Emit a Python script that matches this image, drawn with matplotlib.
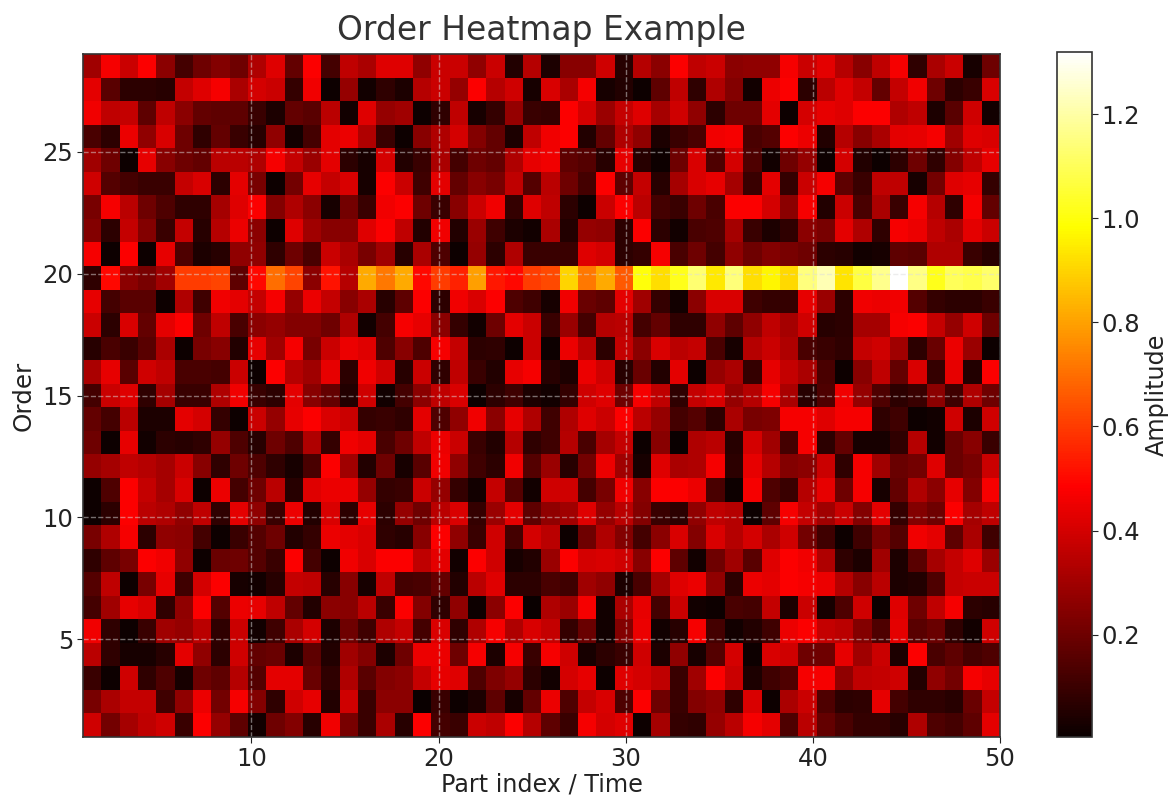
from matplotlib import pyplot as plt
import numpy as np

# amplitude, one list per order, top row first
row_29 = [.3,.47,.38,.48,.26,.12,.2,.24,.2,.33,.42,.18,.48,.12,.36,.32,.42, .42,.27,.38,.38,.27,.38,.05,.34,.04,.25,.25,.39,.06,.34,.26,.48, .36,.38,.26,.27,.27,.47,.38,.43,.34,.25,.36,.47,.08,.32,.38,.03,.2]
row_28 = [.43,.16,.07,.07,.06,.37,.42,.47,.32,.4,.38,.09,.46,.01,.28,.02,.08, .04,.34,.38,.28,.48,.34,.39,.03,.41,.32,.47,.03,.05,.01,.17,.36, .08,.33,.24,.02,.45,.48,.07,.35,.42,.37,.18,.37,.46,.2,.07,.1,.41]
row_27 = [.46,.36,.37,.17,.36,.26,.18,.17,.17,.1,.04,.18,.16,.35,.02,.42,.28, .3,.01,.08,.36,.03,.09,.28,.1,.09,.48,.4,.29,.37,.42,.31,.39, .27,.07,.2,.2,.43,.01,.4,.44,.42,.48,.48,.33,.36,.04,.16,.39,.02]
row_26 = [.13,.07,.45,.27,.41,.2,.08,.18,.1,.06,.27,.02,.12,.43,.45,.33,.1, .01,.25,.33,.4,.24,.18,.04,.36,.46,.48,.05,.18,.33,.27,.04,.1, .13,.46,.47,.13,.15,.48,.45,.05,.34,.25,.32,.43,.44,.47,.3,.42,.41]
row_25 = [.3,.2,.01,.44,.25,.2,.18,.35,.35,.33,.47,.37,.29,.43,.07,.03,.4, .05,.1,.32,.12,.2,.18,.33,.44,.46,.17,.15,.06,.44,.06,.01,.2, .41,.14,.4,.14,.02,.2,.28,.01,.4,.05,.01,.07,.2,.08,.24,.36,.44]
row_24 = [.39,.15,.12,.1,.1,.37,.41,.07,.43,.22,.01,.21,.44,.37,.41,.03,.48, .38,.11,.43,.18,.25,.22,.36,.15,.35,.2,.12,.48,.17,.37,.06,.31, .41,.44,.31,.1,.43,.09,.38,.47,.17,.1,.36,.36,.03,.21,.42,.44,.09]
row_23 = [.22,.47,.35,.2,.14,.08,.08,.31,.42,.48,.24,.33,.26,.03,.21,.1,.46, .48,.2,.1,.25,.38,.46,.09,.42,.36,.07,.01,.38,.48,.35,.12,.1, .2,.13,.48,.48,.4,.26,.47,.05,.38,.13,.32,.1,.47,.34,.08,.47,.18]
row_22 = [.24,.07,.37,.24,.1,.37,.06,.34,.45,.26,.01,.42,.3,.25,.25,.42,.48, .36,.05,.46,.05,.29,.11,.04,.02,.32,.05,.28,.27,.07,.48,.07,.02, .13,.14,.31,.1,.04,.08,.26,.22,.43,.33,.08,.47,.45,.36,.32,.43,.38]
row_21 = [.47,.01,.48,.01,.44,.14,.04,.06,.27,.27,.08,.2,.13,.38,.32,.22,.3, .06,.32,.14,.01,.28,.07,.33,.1,.1,.1,.42,.4,.07,.09,.47,.13, .2,.12,.27,.2,.24,.22,.2,.07,.06,.02,.03,.17,.16,.33,.33,.1,.06]
row_20 = [.08,.5,.26,.22,.3,.6,.6,.62,.17,.5,.7,.62,.26,.52,.34,.82,.72, .82,.5,.6,.55,.8,.53,.5,.6,.63,.9,.72,.82,.66,1.0,.92,1.02, 1.13,.94,1.14,.92,.97,.91,1.15,1.22,.93,1.07,1.17,1.32,1.16,1.02,1.1,1.08,1.12]
row_19 = [.44,.12,.16,.16,.01,.33,.11,.46,.43,.37,.47,.28,.45,.37,.25,.32,.06, .17,.48,.07,.46,.41,.48,.14,.11,.03,.46,.19,.17,.43,.3,.09,.02, .26,.41,.41,.11,.09,.09,.44,.29,.07,.46,.45,.46,.15,.09,.07,.07,.1]
row_18 = [.38,.07,.41,.18,.43,.48,.2,.36,.13,.26,.28,.24,.24,.2,.33,.02,.12, .47,.44,.26,.09,.02,.2,.43,.38,.1,.29,.12,.34,.35,.12,.18,.08, .08,.27,.17,.27,.36,.31,.39,.06,.07,.31,.31,.47,.48,.37,.28,.39,.2]
row_17 = [.06,.13,.1,.16,.32,.01,.22,.25,.05,.44,.3,.47,.22,.38,.45,.42,.14, .25,.14,.47,.37,.07,.08,.01,.38,.01,.45,.35,.07,.37,.26,.41,.35, .37,.13,.03,.34,.38,.33,.13,.1,.08,.37,.39,.3,.07,.19,.45,.29,.01]
row_16 = [.32,.44,.16,.39,.36,.13,.13,.12,.38,.01,.48,.34,.3,.44,.07,.46,.39, .06,.38,.08,.36,.1,.05,.44,.47,.06,.04,.45,.39,.06,.19,.05,.43, .01,.28,.32,.09,.44,.37,.32,.13,.01,.25,.36,.18,.41,.09,.44,.05,.48]
row_15 = [.12,.38,.42,.08,.31,.1,.1,.33,.46,.1,.07,.43,.25,.18,.05,.39,.02, .12,.26,.36,.41,.01,.07,.11,.04,.02,.09,.39,.42,.2,.47,.36,.08, .37,.41,.28,.34,.47,.32,.06,.14,.46,.28,.14,.07,.1,.26,.11,.33,.2]
row_14 = [.18,.12,.35,.04,.04,.43,.4,.09,.01,.38,.28,.44,.48,.41,.38,.09,.1, .08,.43,.14,.27,.46,.26,.44,.33,.11,.33,.42,.38,.48,.35,.28,.12, .15,.07,.32,.22,.23,.47,.47,.42,.47,.47,.08,.11,.01,.02,.39,.04,.39]
row_13 = [.2,.01,.44,.02,.07,.06,.08,.28,.14,.06,.2,.14,.33,.09,.46,.43,.13, .2,.36,.45,.38,.1,.05,.34,.08,.11,.34,.13,.31,.37,.01,.25,.0, .33,.35,.06,.4,.3,.12,.47,.07,.18,.03,.03,.08,.34,.02,.19,.25,.1]
row_12 = [.28,.31,.36,.34,.31,.38,.25,.08,.2,.14,.08,.03,.13,.48,.3,.05,.2, .03,.16,.46,.27,.11,.07,.46,.15,.29,.06,.21,.45,.3,.03,.42,.32, .33,.47,.07,.44,.34,.24,.26,.38,.08,.47,.3,.19,.21,.42,.19,.22,.38]
row_11 = [.01,.14,.48,.37,.31,.41,.01,.45,.12,.2,.35,.06,.42,.45,.45,.28,.09, .1,.38,.28,.09,.02,.37,.15,.02,.39,.39,.12,.22,.46,.25,.48,.48, .45,.13,.01,.47,.14,.1,.34,.44,.2,.47,.03,.18,.33,.26,.44,.24,.47]
row_10 = [.01,.07,.48,.35,.33,.27,.36,.08,.43,.27,.1,.45,.05,.41,.07,.44,.07, .28,.2,.35,.41,.09,.29,.43,.17,.27,.3,.42,.28,.35,.24,.1,.07, .27,.36,.34,.01,.17,.47,.37,.3,.38,.24,.43,.09,.24,.2,.48,.31,.36]
row_09 = [.22,.33,.47,.07,.27,.26,.12,.01,.1,.15,.2,.05,.09,.45,.43,.41,.08, .06,.25,.48,.27,.1,.39,.12,.4,.35,.01,.2,.33,.24,.12,.26,.41, .24,.41,.34,.4,.32,.39,.21,.11,.01,.11,.22,.15,.46,.43,.17,.32,.11]
row_08 = [.08,.17,.22,.48,.46,.27,.01,.19,.2,.15,.1,.48,.12,.01,.46,.41,.48, .48,.36,.43,.02,.48,.39,.03,.05,.29,.48,.4,.41,.39,.25,.48,.17, .02,.2,.3,.16,.42,.48,.46,.33,.08,.04,.3,.04,.16,.31,.37,.42,.29]
row_07 = [.15,.36,.01,.22,.44,.11,.4,.48,.03,.02,.06,.37,.36,.06,.25,.03,.36, .12,.13,.18,.05,.35,.42,.07,.07,.13,.11,.3,.27,.04,.13,.31,.42, .45,.27,.07,.45,.43,.48,.47,.45,.34,.25,.35,.04,.05,.14,.37,.38,.38]
row_06 = [.12,.3,.44,.41,.08,.27,.48,.15,.45,.44,.36,.18,.05,.26,.25,.35,.1, .48,.24,.08,.27,.01,.26,.48,.0,.33,.29,.47,.02,.32,.44,.12,.38, .02,.01,.13,.12,.37,.04,.38,.03,.14,.39,.01,.42,.2,.36,.47,.07,.06]
row_05 = [.46,.08,.01,.1,.3,.28,.35,.08,.38,.02,.11,.32,.4,.04,.2,.11,.33, .37,.12,.41,.08,.33,.47,.33,.41,.37,.09,.19,.02,.24,.45,.02,.06, .47,.12,.02,.05,.11,.45,.48,.37,.35,.24,.14,.43,.16,.19,.08,.02,.39]
row_04 = [.35,.08,.03,.03,.06,.43,.27,.07,.39,.18,.19,.04,.17,.05,.3,.24,.04, .2,.45,.45,.2,.47,.04,.47,.1,.47,.39,.03,.07,.1,.39,.04,.27, .03,.15,.4,.01,.41,.39,.2,.2,.44,.3,.38,.04,.48,.13,.17,.12,.14]
row_03 = [.1,.01,.39,.08,.14,.03,.2,.17,.34,.15,.43,.43,.19,.08,.33,.16,.24, .26,.37,.44,.42,.14,.23,.28,.07,.02,.4,.44,.01,.42,.4,.36,.1, .3,.48,.38,.04,.11,.14,.47,.47,.27,.36,.37,.39,.05,.27,.21,.47,.44]
row_02 = [.22,.32,.37,.37,.11,.27,.45,.21,.47,.24,.08,.39,.44,.05,.39,.1,.26, .26,.0,.1,.01,.04,.17,.03,.18,.45,.14,.37,.41,.14,.48,.2,.1, .24,.27,.08,.41,.01,.32,.38,.14,.07,.08,.44,.12,.08,.08,.06,.19,.37]
row_01 = [.39,.21,.31,.36,.39,.1,.48,.28,.17,.02,.2,.24,.06,.46,.22,.1,.32, .06,.48,.12,.1,.38,.36,.48,.34,.17,.1,.47,.4,.42,.01,.31,.09, .08,.28,.35,.47,.43,.14,.35,.18,.13,.09,.09,.06,.33,.14,.12,.17,.43]

rows = [row_01, row_02, row_03, row_04, row_05, row_06, row_07, row_08, row_09, row_10,
        row_11, row_12, row_13, row_14, row_15, row_16, row_17, row_18, row_19, row_20,
        row_21, row_22, row_23, row_24, row_25, row_26, row_27, row_28, row_29]
amplitude = np.array(rows)

x_ticks = [10, 20, 30, 40, 50]
y_ticks = [5, 10, 15, 20, 25]
cbar_ticks = [0.2, 0.4, 0.6, 0.8, 1.0, 1.2]

W, H = 1169, 796
fig = plt.figure(figsize=(W / 100, H / 100), dpi=100)
ax = fig.add_axes([83 / W, 1 - 737 / H, 917 / W, 683 / H])
cax = fig.add_axes([1057 / W, 1 - 737 / H, 35 / W, 685 / H])

im = ax.imshow(amplitude, cmap='hot', origin='lower', aspect='auto',
               extent=[1, 50, 1, 29], vmin=0.003, vmax=1.32, interpolation='nearest')

ax.set_xticks(x_ticks)
ax.set_yticks(y_ticks)
ax.tick_params(labelsize=17.5, colors='#222222', length=4, pad=3)
ax.grid(True, color='#dddddd', linestyle='--', linewidth=1, alpha=0.5)
ax.set_title('Order Heatmap Example', fontsize=23.7, color='#333333', pad=10)
ax.set_xlabel('Part index / Time', fontsize=17.2, color='#222222', labelpad=1)
ax.set_ylabel('Order', fontsize=17.7, color='#222222', labelpad=5)

cbar = fig.colorbar(im, cax=cax)
cbar.set_ticks(cbar_ticks)
cbar.ax.tick_params(labelsize=17.5, colors='#222222', length=4, pad=3)
cbar.set_label('Amplitude', fontsize=17.2, color='#222222', labelpad=3)

for sp in list(ax.spines.values()) + list(cax.spines.values()):
    sp.set_edgecolor('#333333')
    sp.set_linewidth(1.2)

fig.savefig('out.png', dpi=100)
